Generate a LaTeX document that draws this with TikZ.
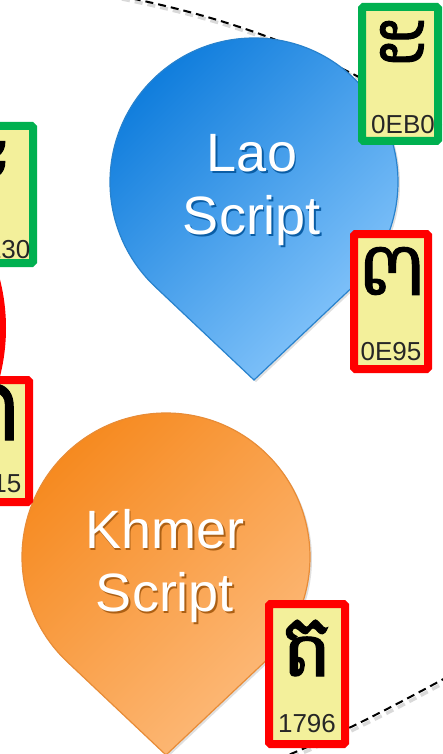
\documentclass[tikz,border=0pt]{standalone}
\usepackage{fontspec}
\setmainfont{Liberation Sans}
\newfontfamily\laofont[Script=Lao, FakeBold=1.2]{Dhyana}
\newfontfamily\thaifont[Script=Thai, FakeBold=1.2]{Loma}
\newfontfamily\khmerfont[Script=Khmer, FakeBold=1.2]{Battambang}
\usetikzlibrary{calc,shadows}

\definecolor{laodark}{RGB}{14,124,220}
\definecolor{laolight}{RGB}{138,200,252}
\definecolor{laoline}{RGB}{40,130,205}
\definecolor{khmerdark}{RGB}{246,137,30}
\definecolor{khmerlight}{RGB}{253,188,126}
\definecolor{khmerline}{RGB}{232,140,55}
\definecolor{cardfill}{RGB}{243,240,155}
\definecolor{okgreen}{RGB}{0,176,80}
\definecolor{badred}{RGB}{255,0,0}
\colorlet{laoshade}{laodark!75!black}
\colorlet{khmershade}{khmerdark!70!black}

% white text with a small dark copy behind it
\newcommand\shd[2]{\rlap{\kern1.5pt\raisebox{-2pt}{\color{#1}#2}}#2}

\tikzset{
  card/.style={rectangle, draw=#1, line width=8pt, fill=cardfill, rounded corners=1.5pt,
    minimum width=76pt, minimum height=134pt, inner sep=0pt},
  glyph/.style={inner sep=0pt, text=black},
  code/.style={font=\fontsize{26}{26}\selectfont, text=black!85, inner sep=0pt},
  droptext/.style={text=white, align=center, font=\fontsize{54}{63}\selectfont},
  ring/.style={dashed, dash pattern=on 8pt off 5pt, line width=2pt},
  ringshadow/.style={ring, draw=black, opacity=0.15, line width=3.5pt},
  dropshade/.style={drop shadow={opacity=0.25, shadow xshift=2pt, shadow yshift=-2pt}}
}

\begin{document}
\begin{tikzpicture}[x=1pt, y=-1pt]
\useasboundingbox (0,0) rectangle (443,754);
\clip (0,0) rectangle (443,754);
\fill[white] (0,0) rectangle (443,754);

% dashed ring passing behind the drops
\draw[ringshadow, shift={(2pt,-3pt)}] (120,-4) .. controls (230,18) and (330,52) .. (450,130);
\draw[ring] (120,-4) .. controls (230,18) and (330,52) .. (450,130);
\draw[ringshadow, shift={(2pt,-3pt)}] (460,670) .. controls (400,703) and (330,740) .. (270,762);
\draw[ring] (460,670) .. controls (400,703) and (330,740) .. (270,762);

% red ring on the left
\draw[badred, line width=6pt] (-191,328) circle[radius=194];

% drops
\coordinate (lao c) at (254,182);
\coordinate (khmer c) at (166,557);
\path[draw=laoline, line width=1.2pt, top color=laodark, bottom color=laolight, shading angle=45, dropshade]
  ($(lao c)+(0,198)$) -- ($(lao c)+(46.7:144)$) arc[start angle=46.7, end angle=-226.7, radius=144] -- cycle;
\path[draw=khmerline, line width=1.2pt, top color=khmerdark, bottom color=khmerlight, shading angle=45, dropshade]
  ($(khmer c)+(0,198)$) -- ($(khmer c)+(46.7:144)$) arc[start angle=46.7, end angle=-226.7, radius=144] -- cycle;

\node[droptext] (lao) at (252,191) {\shd{laoshade}{Lao}\\\shd{laoshade}{Script}};
\node[droptext] (khmer) at (165,567) {\shd{khmershade}{Khmer}\\\shd{khmershade}{Script}};

% letter cards
\node[card=okgreen] (c1) at (400,74) {};
\node[glyph, font=\laofont\fontsize{82}{82}\selectfont] (c1 glyph) at (402,45) {ະ};
\node[code] (c1 code) at (403,125) {0EB0};

\node[card=badred, minimum width=74pt, minimum height=135pt] (c2) at (391,301.5) {};
\node[glyph, font=\laofont\fontsize{82}{82}\selectfont] (c2 glyph) at (392,271) {ຕ};
\node[code] (c2 code) at (391,352) {0E95};

\node[card=okgreen, minimum height=137pt] (c3) at (-5,194.5) {};
\node[glyph, font=\thaifont\fontsize{84}{84}\selectfont] (c3 glyph) at (-10,161) {ะ};
\node[code] (c3 code) at (0,250) {0E30};

\node[card=badred, minimum height=122pt] (c4) at (-9,441) {};
\node[glyph, font=\thaifont\fontsize{100}{100}\selectfont] (c4 glyph) at (-12,412) {ต};
\node[code] (c4 code) at (-9,484) {0E15};

\node[card=badred, minimum height=140pt] (c5) at (307,674) {};
\node[glyph, font=\khmerfont\fontsize{88}{88}\selectfont] (c5 glyph) at (307,648) {ត};
\node[code] (c5 code) at (307,724) {1796};

\end{tikzpicture}
\end{document}
